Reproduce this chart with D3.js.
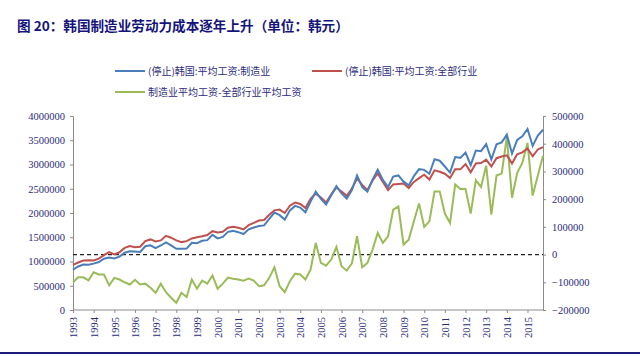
<!DOCTYPE html>
<html><head><meta charset="utf-8">
<script src="https://cdn.jsdelivr.net/npm/d3@7"></script>
<style>
html,body{margin:0;padding:0;background:#fff;}
svg{display:block;}
</style></head>
<body>
<svg id="c" width="640" height="356"></svg>
<script>
const title = "图 20：韩国制造业劳动力成本逐年上升（单位：韩元）";
const seriesNames = ["(停止)韩国:平均工资:制造业", "(停止)韩国:平均工资:全部行业", "制造业平均工资-全部行业平均工资"];
const years = ["1993","1994","1995","1996","1997","1998","1999","2000","2001","2002","2003","2004","2005","2006","2007","2008","2009","2010","2011","2012","2013","2014","2015"];
const leftTicks = [0,500000,1000000,1500000,2000000,2500000,3000000,3500000,4000000];
const rightTicks = [-200000,-100000,0,100000,200000,300000,400000,500000];
// quarterly, 1993Q1 .. 2015Q4
const manufacturing = [830000,898000,938000,932000,956000,988000,1058000,1084000,1061000,1100000,1180000,1212000,1204000,1197000,1315000,1335000,1277000,1330000,1394000,1334000,1261000,1262000,1267000,1385000,1377000,1426000,1440000,1550000,1477000,1507000,1612000,1631000,1605000,1566000,1663000,1701000,1731000,1745000,1881000,2009000,1956000,1864000,2054000,2146000,2113000,2015000,2236000,2442000,2290000,2175000,2367000,2553000,2403000,2297000,2473000,2776000,2534000,2440000,2688000,2893000,2682000,2536000,2752000,2774000,2646000,2569000,2760000,2904000,2890000,2810000,3108000,3078000,2958000,2834000,3153000,3137000,3247000,2988000,3288000,3274000,3421000,3104000,3415000,3457000,3615000,3225000,3505000,3581000,3733000,3383000,3595000,3717000];
const allIndustry = [930000,980000,1020000,1025000,1020000,1060000,1130000,1195000,1145000,1190000,1280000,1320000,1295000,1305000,1420000,1455000,1415000,1435000,1530000,1490000,1435000,1400000,1420000,1475000,1500000,1520000,1545000,1625000,1600000,1612000,1695000,1718000,1695000,1660000,1750000,1795000,1845000,1856000,1965000,2055000,2070000,2000000,2150000,2215000,2185000,2105000,2290000,2400000,2320000,2215000,2385000,2525000,2445000,2355000,2505000,2710000,2580000,2470000,2670000,2815000,2640000,2470000,2590000,2600000,2610000,2515000,2640000,2720000,2790000,2690000,2880000,2850000,2810000,2720000,2900000,2900000,3010000,2840000,3020000,3030000,3100000,2960000,3130000,3165000,3190000,3020000,3210000,3250000,3330000,3170000,3310000,3360000];
const difference = [-100000,-82000,-82000,-93000,-64000,-72000,-72000,-111000,-84000,-90000,-100000,-108000,-91000,-108000,-105000,-120000,-138000,-105000,-136000,-156000,-174000,-138000,-153000,-90000,-123000,-94000,-105000,-75000,-123000,-105000,-83000,-87000,-90000,-94000,-87000,-94000,-114000,-111000,-84000,-46000,-114000,-136000,-96000,-69000,-72000,-90000,-54000,42000,-30000,-40000,-18000,28000,-42000,-58000,-32000,66000,-46000,-30000,18000,78000,42000,66000,162000,174000,36000,54000,120000,184000,100000,120000,228000,228000,148000,114000,253000,237000,237000,148000,268000,244000,321000,144000,285000,292000,425000,205000,295000,331000,403000,213000,285000,357000];

const colors = ["#4A7EBB", "#C0504D", "#9BBB59"];
const textCol = "#2b2b7c";
const svg = d3.select("#c");
const L = 73, R = 543, T = 116, B = 310;

svg.append("text").attr("x", 17).attr("y", 31)
  .attr("font-family", "'Noto Sans CJK SC', sans-serif").attr("font-weight", "bold")
  .attr("font-size", 13.6).attr("fill", "#14147a").text(title);

svg.append("line").attr("x1", 0).attr("x2", 640).attr("y1", 353).attr("y2", 353)
  .attr("stroke", "#1c1c80").attr("stroke-width", 2);

const x = d3.scaleLinear().domain([0, manufacturing.length - 1]).range([L, R]);
const yL = d3.scaleLinear().domain([0, 4000000]).range([B, T]);
const yR = d3.scaleLinear().domain([-200000, 500000]).range([B, T]);

const serif = "'Liberation Serif', 'Times New Roman', serif";

// left axis
const gL = svg.append("g").attr("transform", `translate(${L},0)`)
  .call(d3.axisLeft(yL).tickValues(leftTicks).tickFormat(d3.format("d")).tickSize(3).tickPadding(5));
// right axis
const gR = svg.append("g").attr("transform", `translate(${R},0)`)
  .call(d3.axisRight(yR).tickValues(rightTicks).tickFormat(d3.format("d")).tickSize(3).tickPadding(6));
// bottom axis
const tickIdx = years.map((_, k) => k * 4);
const gB = svg.append("g").attr("transform", `translate(0,${B})`)
  .call(d3.axisBottom(x).tickValues(tickIdx).tickFormat((d) => years[d / 4]).tickSize(3).tickSizeOuter(0));
gB.select(".domain").attr("d", `M${L},0H${R}`);
gB.selectAll("text").attr("transform", "rotate(-90)").attr("text-anchor", "end")
  .attr("x", -7).attr("y", 0).attr("dy", "0.35em");

[gL, gR, gB].forEach(g => {
  g.selectAll(".domain").attr("stroke", "#8c8c8c");
  g.selectAll(".tick line").attr("stroke", "#8c8c8c");
  g.selectAll("text").attr("font-family", serif).attr("font-size", 10.5).attr("fill", textCol);
});

// zero line (right axis)
svg.append("line").attr("x1", L).attr("x2", R).attr("y1", yR(0)).attr("y2", yR(0))
  .attr("stroke", "#222").attr("stroke-width", 1.3).attr("stroke-dasharray", "4,3");

const lineL = d3.line().x((d, i) => x(i)).y(d => yL(d));
const lineR = d3.line().x((d, i) => x(i)).y(d => yR(d));
svg.append("path").datum(difference).attr("d", lineR).attr("fill", "none").attr("stroke", colors[2]).attr("stroke-width", 2);
svg.append("path").datum(allIndustry).attr("d", lineL).attr("fill", "none").attr("stroke", colors[1]).attr("stroke-width", 2);
svg.append("path").datum(manufacturing).attr("d", lineL).attr("fill", "none").attr("stroke", colors[0]).attr("stroke-width", 2);

// legend
const legendPos = [[115, 71], [312, 71], [115, 92]];
const cjk = "'Noto Sans CJK SC', sans-serif";
seriesNames.forEach((n, k) => {
  const [lx, ly] = legendPos[k];
  svg.append("line").attr("x1", lx).attr("x2", lx + 30).attr("y1", ly).attr("y2", ly)
    .attr("stroke", colors[k]).attr("stroke-width", 2);
  svg.append("text").attr("x", lx + 33).attr("y", ly).attr("dy", "0.35em")
    .attr("font-family", cjk).attr("font-size", 10).attr("fill", textCol).text(n);
});
</script>
</body></html>
